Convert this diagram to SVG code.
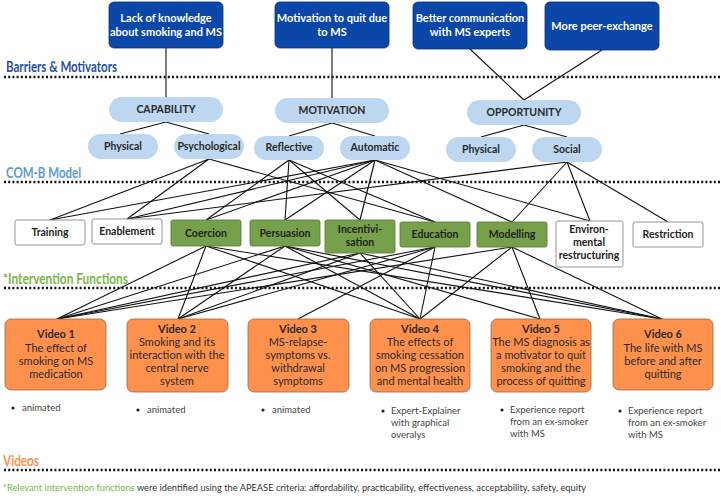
<svg xmlns="http://www.w3.org/2000/svg" width="721" height="496" viewBox="0 0 721 496">
<style>
text{font-family:Lato,"Open Sans","Liberation Sans",sans-serif}
.top rect{fill:#0a47a8;stroke:#06306f;stroke-width:0.8}
.top text{fill:#fff;font-size:11px;font-weight:700;text-anchor:middle}
.pill rect{fill:#bdd7f0}
.pill text{fill:#2a2a2a;font-size:10.5px;font-weight:700;text-anchor:middle}
.ifw rect{fill:#fff;stroke:#888;stroke-width:0.9}
.ifg rect{fill:#76a04a;stroke:#5d7f3a;stroke-width:0.9}
.ifw text,.ifg text{fill:#222;font-size:10.5px;font-weight:700;text-anchor:middle}
.vid rect{fill:#ff914d;stroke:#8a6a50;stroke-width:0.8}
.vid text{fill:#2a2a2a;font-size:11px;text-anchor:middle}
.vid .h{font-weight:700}
.bul{fill:#444;font-size:9.5px}
.sec{font-size:14.5px;font-weight:700}
.dot{stroke:#111;stroke-width:2.4;stroke-dasharray:2 2.2}
#connectors line{stroke:#111;stroke-width:1.1}
</style>

<line class="dot" x1="4" y1="77" x2="721" y2="77"/>
<line class="dot" x1="4" y1="182" x2="721" y2="182"/>
<line class="dot" x1="4" y1="288" x2="721" y2="288"/>
<line class="dot" x1="4" y1="470" x2="721" y2="470"/>

<text class="sec" x="6" y="72" fill="#1f4fa8" textLength="111" lengthAdjust="spacingAndGlyphs">Barriers &amp; Motivators</text>
<text class="sec" x="6" y="178" fill="#5b9bd5" textLength="75" lengthAdjust="spacingAndGlyphs">COM-B Model</text>
<text class="sec" x="3" y="284" fill="#7ab648" textLength="125" lengthAdjust="spacingAndGlyphs">*Intervention Functions</text>
<text class="sec" x="3" y="466" fill="#ff914d" textLength="36" lengthAdjust="spacingAndGlyphs">Videos</text>
<text x="3" y="491" font-size="10" fill="#333" textLength="583" lengthAdjust="spacingAndGlyphs"><tspan fill="#7ab648">*Relevant intervention functions</tspan> were identified using the APEASE criteria: affordability, practicability, effectiveness, acceptability, safety, equity</text>

<g id="connectors">
<line x1="166" y1="48" x2="166" y2="97"/>
<line x1="332" y1="48" x2="332" y2="98"/>
<line x1="470" y1="49" x2="524" y2="100"/>
<line x1="602" y1="50" x2="524" y2="100"/>
<line x1="166" y1="122" x2="120" y2="134"/>
<line x1="166" y1="122" x2="209" y2="134"/>
<line x1="332" y1="123" x2="289" y2="136"/>
<line x1="332" y1="123" x2="375" y2="136"/>
<line x1="524" y1="125" x2="481" y2="137"/>
<line x1="524" y1="125" x2="567" y2="137"/>
<line x1="209" y1="159" x2="50" y2="220"/>
<line x1="209" y1="159" x2="127" y2="219"/>
<line x1="209" y1="159" x2="435" y2="222"/>
<line x1="289" y1="160" x2="206" y2="220"/>
<line x1="289" y1="160" x2="285" y2="220"/>
<line x1="289" y1="160" x2="360" y2="220"/>
<line x1="289" y1="160" x2="435" y2="222"/>
<line x1="375" y1="160" x2="50" y2="220"/>
<line x1="375" y1="160" x2="127" y2="219"/>
<line x1="375" y1="160" x2="206" y2="220"/>
<line x1="375" y1="160" x2="285" y2="220"/>
<line x1="375" y1="160" x2="360" y2="220"/>
<line x1="375" y1="160" x2="512" y2="222"/>
<line x1="375" y1="160" x2="590" y2="221"/>
<line x1="567" y1="162" x2="127" y2="219"/>
<line x1="567" y1="162" x2="512" y2="222"/>
<line x1="567" y1="162" x2="590" y2="221"/>
<line x1="567" y1="162" x2="668" y2="222"/>
<line x1="206" y1="246" x2="57" y2="319"/>
<line x1="206" y1="246" x2="178" y2="319"/>
<line x1="206" y1="246" x2="420" y2="319"/>
<line x1="206" y1="246" x2="662" y2="319"/>
<line x1="285" y1="246" x2="57" y2="319"/>
<line x1="285" y1="246" x2="178" y2="319"/>
<line x1="285" y1="246" x2="420" y2="319"/>
<line x1="285" y1="246" x2="540" y2="319"/>
<line x1="285" y1="246" x2="662" y2="319"/>
<line x1="360" y1="253" x2="57" y2="319"/>
<line x1="360" y1="253" x2="178" y2="319"/>
<line x1="360" y1="253" x2="420" y2="319"/>
<line x1="360" y1="253" x2="662" y2="319"/>
<line x1="435" y1="247" x2="57" y2="319"/>
<line x1="435" y1="247" x2="178" y2="319"/>
<line x1="435" y1="247" x2="298" y2="319"/>
<line x1="435" y1="247" x2="420" y2="319"/>
<line x1="512" y1="247" x2="57" y2="319"/>
<line x1="512" y1="247" x2="420" y2="319"/>
<line x1="512" y1="247" x2="540" y2="319"/>
<line x1="512" y1="247" x2="662" y2="319"/>
</g>

<g id="b1" class="top"><rect x="109" y="2" width="114" height="46" rx="5"/><text x="166" y="22">Lack of knowledge</text><text x="166" y="36">about smoking and MS</text></g>
<g id="b2" class="top"><rect x="275" y="2" width="114" height="46" rx="5"/><text x="332" y="22">Motivation to quit due</text><text x="332" y="36">to MS</text></g>
<g id="b3" class="top"><rect x="413" y="2" width="114" height="47" rx="5"/><text x="470" y="22">Better communication</text><text x="470" y="36">with MS experts</text></g>
<g id="b4" class="top"><rect x="545" y="2" width="114" height="48" rx="5"/><text x="602" y="30">More peer-exchange</text></g>

<g id="capability" class="pill"><rect x="109" y="97" width="114" height="25" rx="12.5"/><text x="166" y="113">CAPABILITY</text></g>
<g id="motivation" class="pill"><rect x="275" y="98" width="114" height="25" rx="12.5"/><text x="332" y="114">MOTIVATION</text></g>
<g id="opportunity" class="pill"><rect x="467" y="100" width="114" height="25" rx="12.5"/><text x="524" y="116">OPPORTUNITY</text></g>
<g id="cap-physical" class="pill"><rect x="88" y="134" width="70" height="25" rx="12.5"/><text x="123" y="150">Physical</text></g>
<g id="cap-psychological" class="pill"><rect x="174" y="134" width="70" height="25" rx="12.5"/><text x="209" y="150">Psychological</text></g>
<g id="mot-reflective" class="pill"><rect x="254" y="136" width="70" height="24" rx="12"/><text x="289" y="151">Reflective</text></g>
<g id="mot-automatic" class="pill"><rect x="340" y="136" width="70" height="24" rx="12"/><text x="375" y="151">Automatic</text></g>
<g id="opp-physical" class="pill"><rect x="446" y="137" width="70" height="25" rx="12.5"/><text x="481" y="153">Physical</text></g>
<g id="opp-social" class="pill"><rect x="532" y="137" width="70" height="25" rx="12.5"/><text x="567" y="153">Social</text></g>

<g id="training" class="ifw"><rect x="15" y="220" width="70" height="25" rx="2"/><text x="50" y="236">Training</text></g>
<g id="enablement" class="ifw"><rect x="92" y="219" width="70" height="25" rx="2"/><text x="127" y="235">Enablement</text></g>
<g id="coercion" class="ifg"><rect x="171" y="220" width="70" height="26" rx="2"/><text x="206" y="237">Coercion</text></g>
<g id="persuasion" class="ifg"><rect x="250" y="220" width="70" height="26" rx="2"/><text x="285" y="237">Persuasion</text></g>
<g id="incentivisation" class="ifg"><rect x="325" y="220" width="70" height="33" rx="2"/><text x="360" y="233">Incentivi-</text><text x="360" y="246">sation</text></g>
<g id="education" class="ifg"><rect x="400" y="222" width="70" height="25" rx="2"/><text x="435" y="238">Education</text></g>
<g id="modelling" class="ifg"><rect x="477" y="222" width="70" height="25" rx="2"/><text x="512" y="238">Modelling</text></g>
<g id="environmental" class="ifw"><rect x="556" y="221" width="67" height="46" rx="2"/><text x="589" y="233">Environ-</text><text x="589" y="246">mental</text><text x="589" y="259">restructuring</text></g>
<g id="restriction" class="ifw"><rect x="633" y="222" width="70" height="25" rx="2"/><text x="668" y="238">Restriction</text></g>

<g id="video1" class="vid"><rect x="5" y="319" width="101" height="71" rx="6"/><text class="h" x="56" y="338">Video 1</text><text x="56" y="352">The effect of</text><text x="56" y="365">smoking on MS</text><text x="56" y="378">medication</text></g>
<g id="video2" class="vid"><rect x="127" y="319" width="101" height="73" rx="6"/><text class="h" x="177" y="333">Video 2</text><text x="177" y="346">Smoking and its</text><text x="177" y="359">interaction with the</text><text x="177" y="372">central nerve</text><text x="177" y="385">system</text></g>
<g id="video3" class="vid"><rect x="248" y="319" width="101" height="73" rx="6"/><text class="h" x="298" y="333">Video 3</text><text x="298" y="346">MS-relapse-</text><text x="298" y="359">symptoms vs.</text><text x="298" y="372">withdrawal</text><text x="298" y="385">symptoms</text></g>
<g id="video4" class="vid"><rect x="370" y="319" width="100" height="73" rx="6"/><text class="h" x="420" y="333">Video 4</text><text x="420" y="346">The effects of</text><text x="420" y="359">smoking cessation</text><text x="420" y="372">on MS progression</text><text x="420" y="385">and mental health</text></g>
<g id="video5" class="vid"><rect x="491" y="319" width="100" height="73" rx="6"/><text class="h" x="541" y="333">Video 5</text><text x="541" y="346">The MS diagnosis as</text><text x="541" y="359">a motivator to quit</text><text x="541" y="372">smoking and the</text><text x="541" y="385">process of quitting</text></g>
<g id="video6" class="vid"><rect x="613" y="319" width="100" height="71" rx="6"/><text class="h" x="663" y="338">Video 6</text><text x="663" y="352">The life with MS</text><text x="663" y="365">before and after</text><text x="663" y="378">quitting</text></g>

<g id="notes">
<circle cx="13" cy="408" r="1.6" fill="#222"/><text class="bul" x="22" y="411">animated</text>
<circle cx="138" cy="410" r="1.6" fill="#222"/><text class="bul" x="147" y="413">animated</text>
<circle cx="263" cy="410" r="1.6" fill="#222"/><text class="bul" x="272" y="413">animated</text>
<circle cx="383" cy="411" r="1.6" fill="#222"/><text class="bul" x="391" y="414">Expert-Explainer</text><text class="bul" x="391" y="426">with graphical</text><text class="bul" x="391" y="438">overalys</text>
<circle cx="502" cy="410" r="1.6" fill="#222"/><text class="bul" x="510" y="413">Experience report</text><text class="bul" x="510" y="425">from an ex-smoker</text><text class="bul" x="510" y="437">with MS</text>
<circle cx="620" cy="411" r="1.6" fill="#222"/><text class="bul" x="628" y="414">Experience report</text><text class="bul" x="628" y="426">from an ex-smoker</text><text class="bul" x="628" y="438">with MS</text>
</g>
</svg>
